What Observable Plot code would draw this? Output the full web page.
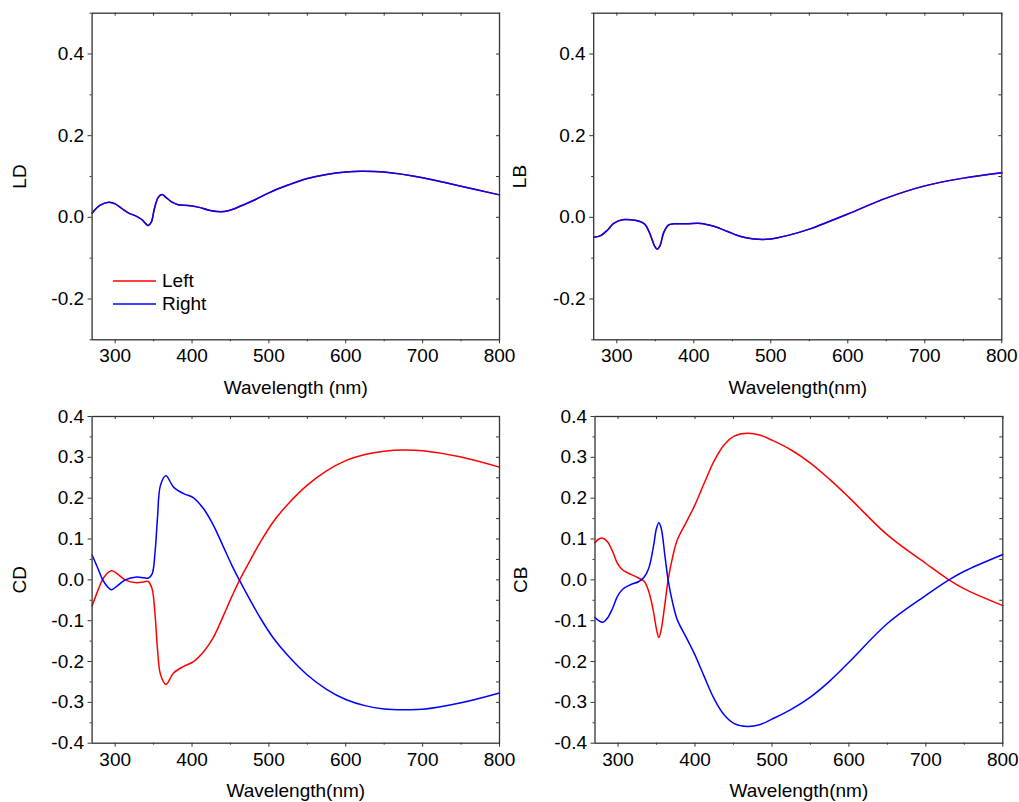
<!DOCTYPE html>
<html>
<head>
<meta charset="utf-8">
<script src="https://cdn.jsdelivr.net/npm/d3@7"></script>
<script src="https://cdn.jsdelivr.net/npm/@observablehq/plot@0.6"></script>
<style>
  body { margin: 0; background: #fff; font-family: Arial, "Liberation Sans", sans-serif; }
  #wrap { position: relative; width: 1019px; height: 802px; overflow: hidden; background: #fff; }
  .panel { position: absolute; }
  .legend { position: absolute; font-size: 19px; color: #000; line-height: 23px; }
  .legend div { display: flex; align-items: center; height: 23px; }
  .legend svg { margin-right: 6px; }
</style>
</head>
<body>
<div id="wrap"></div>
<script>
// ---- data ----
const seriesNames = ["Left", "Right"];
const seriesColors = ["#ff0000", "#0000ff"];

const xTicks = [300, 400, 500, 600, 700, 800];
const xMinor = [350, 450, 550, 650, 750];
const yTicksTop = [-0.2, 0.0, 0.2, 0.4];
const yMinorTop = [-0.3, -0.1, 0.1, 0.3, 0.5];
const yTicksBottom = [-0.4, -0.3, -0.2, -0.1, 0.0, 0.1, 0.2, 0.3, 0.4];
const yMinorBottom = [-0.35, -0.25, -0.15, -0.05, 0.05, 0.15, 0.25, 0.35];

// LD (Left and Right coincide)
const ldWl = [270, 280, 292, 300, 309, 317, 326, 335, 340, 343, 347, 351, 356, 361, 366, 374, 382, 395, 408, 421, 434, 447, 465, 482, 500, 525, 550, 575, 600, 620, 650, 700, 750, 800];
const ldLeft = [0.010, 0.029, 0.037, 0.033, 0.021, 0.011, 0.004, -0.006, -0.016, -0.020, -0.012, 0.021, 0.049, 0.056, 0.049, 0.037, 0.031, 0.029, 0.025, 0.018, 0.014, 0.016, 0.029, 0.043, 0.060, 0.079, 0.095, 0.105, 0.111, 0.113, 0.111, 0.097, 0.076, 0.055];
const ldRight = [0.010, 0.029, 0.037, 0.033, 0.021, 0.011, 0.004, -0.006, -0.016, -0.020, -0.012, 0.021, 0.049, 0.056, 0.049, 0.037, 0.031, 0.029, 0.025, 0.018, 0.014, 0.016, 0.029, 0.043, 0.060, 0.079, 0.095, 0.105, 0.111, 0.113, 0.111, 0.097, 0.076, 0.055];

// LB (Left and Right coincide)
const lbWl = [270, 279, 288, 296, 307, 318, 331, 337, 344, 349, 352.5, 356, 361, 367, 374, 391, 409, 426, 443, 461, 478, 500, 525, 550, 575, 600, 650, 700, 750, 800];
const lbLeft = [-0.049, -0.045, -0.031, -0.015, -0.006, -0.006, -0.011, -0.018, -0.045, -0.070, -0.078, -0.070, -0.037, -0.019, -0.016, -0.016, -0.015, -0.022, -0.034, -0.047, -0.053, -0.053, -0.043, -0.029, -0.011, 0.008, 0.047, 0.077, 0.096, 0.109];
const lbRight = [-0.049, -0.045, -0.031, -0.015, -0.006, -0.006, -0.011, -0.018, -0.045, -0.070, -0.078, -0.070, -0.037, -0.019, -0.016, -0.016, -0.015, -0.022, -0.034, -0.047, -0.053, -0.053, -0.043, -0.029, -0.011, 0.008, 0.047, 0.077, 0.096, 0.109];

// CD
const cdWl = [270, 278, 285, 295, 302, 313, 328, 337, 343, 348, 352, 355, 359, 366, 376, 389, 402, 415, 428, 441, 452, 462, 476, 489, 506, 525, 550, 575, 600, 625, 650, 675, 700, 750, 800];
const cdLeft = [-0.064, -0.024, 0.005, 0.022, 0.016, 0.0, -0.007, -0.005, -0.004, -0.022, -0.088, -0.168, -0.232, -0.256, -0.228, -0.212, -0.200, -0.176, -0.140, -0.087, -0.040, 0.000, 0.049, 0.093, 0.143, 0.186, 0.232, 0.267, 0.292, 0.307, 0.315, 0.318, 0.316, 0.301, 0.276];
const cdRight = [0.061, 0.026, -0.004, -0.024, -0.016, 0.0, 0.007, 0.005, 0.004, 0.014, 0.070, 0.150, 0.232, 0.255, 0.227, 0.211, 0.201, 0.174, 0.133, 0.080, 0.035, -0.002, -0.051, -0.094, -0.143, -0.186, -0.233, -0.268, -0.293, -0.308, -0.316, -0.318, -0.317, -0.301, -0.277];

// CB
const cbWl = [270, 275, 280, 286, 293, 299, 306, 316, 327, 334, 340, 346, 350, 353, 356, 361, 365, 371, 377, 388, 399, 412, 425, 438, 451, 468, 485, 500, 525, 550, 575, 600, 650, 700, 730, 750, 800];
const cbLeft = [0.091, 0.100, 0.102, 0.094, 0.069, 0.041, 0.024, 0.014, 0.004, -0.004, -0.029, -0.078, -0.122, -0.141, -0.122, -0.057, 0.0, 0.057, 0.098, 0.139, 0.180, 0.237, 0.292, 0.331, 0.352, 0.359, 0.354, 0.342, 0.318, 0.286, 0.246, 0.202, 0.110, 0.040, 0.0, -0.022, -0.063];
const cbRight = [-0.092, -0.100, -0.104, -0.094, -0.069, -0.041, -0.023, -0.012, -0.004, 0.007, 0.029, 0.082, 0.127, 0.140, 0.127, 0.057, 0.0, -0.057, -0.098, -0.139, -0.180, -0.237, -0.292, -0.331, -0.352, -0.359, -0.354, -0.341, -0.317, -0.287, -0.248, -0.202, -0.107, -0.038, 0.0, 0.021, 0.062];

// ---- drawing ----
function toRows(wl, left, right) {
  const rows = [];
  [left, right].forEach((vals, k) => {
    wl.forEach((w, i) => rows.push({ wl: w, v: vals[i], s: seriesNames[k] }));
  });
  return rows;
}

const fmt = d => d.toFixed(1);
const axisColor = "#333";

function makePanel(cfg) {
  const rows = toRows(cfg.wl, cfg.left, cfg.right);
  const innerW = cfg.width - cfg.ml - cfg.mr;
  const innerH = cfg.height - cfg.mt - cfg.mb;
  const chart = Plot.plot({
    width: cfg.width,
    height: cfg.height,
    marginLeft: cfg.ml,
    marginRight: cfg.mr,
    marginTop: cfg.mt,
    marginBottom: cfg.mb,
    style: { fontFamily: "Arial, 'Liberation Sans', sans-serif", fontSize: "19px", color: "#000", background: "transparent", overflow: "visible" },
    x: { domain: [270, 800] },
    y: { domain: cfg.yDomain },
    color: { domain: seriesNames, range: seriesColors },
    marks: [
      Plot.axisX(xTicks, { tickSize: 4, tickPadding: 5, stroke: axisColor, fill: "#000", label: cfg.xLabel, labelAnchor: "center", labelArrow: "none", labelOffset: 54, fontSize: 19 }),
      Plot.axisX(xMinor, { tickSize: 2, text: null, label: null, stroke: axisColor }),
      Plot.axisY(cfg.yTicks, { tickSize: 4, tickPadding: 4, tickFormat: fmt, stroke: axisColor, fill: "#000", label: cfg.yLabel, labelAnchor: "center", labelArrow: "none", labelOffset: cfg.ylOffset, fontSize: 19 }),
      Plot.axisY(cfg.yMinor, { tickSize: 2, text: null, label: null, stroke: axisColor }),
      Plot.tickX(xTicks.concat(xMinor), { x: d => d, insetBottom: innerH - 3, stroke: axisColor }),
      Plot.tickY(cfg.yTicks.concat(cfg.yMinor).filter(d => d > cfg.yDomain[0] && d < cfg.yDomain[1]), { y: d => d, insetLeft: innerW - 3, stroke: axisColor }),
      Plot.line(rows, { x: "wl", y: "v", z: "s", stroke: "s", strokeWidth: 1.5, curve: "catmull-rom" }),
      Plot.frame({ stroke: axisColor, strokeWidth: 1.3 })
    ]
  });
  chart.classList.add("panel");
  chart.style.left = cfg.left0 + "px";
  chart.style.top = cfg.top0 + "px";
  return chart;
}

const wrap = document.getElementById("wrap");

wrap.appendChild(makePanel({
  wl: ldWl, left: ldLeft, right: ldRight, yDomain: [-0.3, 0.5], yTicks: yTicksTop, yMinor: yMinorTop,
  yLabel: "LD", xLabel: "Wavelength (nm)", width: 510, height: 400, ml: 91.6, mr: 11, mt: 12.7, mb: 60.7,
  left0: 0, top0: 0, ylOffset: 80
}));
wrap.appendChild(makePanel({
  wl: lbWl, left: lbLeft, right: lbRight, yDomain: [-0.3, 0.5], yTicks: yTicksTop, yMinor: yMinorTop,
  yLabel: "LB", xLabel: "Wavelength(nm)", width: 509, height: 400, ml: 83.2, mr: 17.7, mt: 12.7, mb: 60.7,
  left0: 510, top0: 0, ylOffset: 81
}));
wrap.appendChild(makePanel({
  wl: cdWl, left: cdLeft, right: cdRight, yDomain: [-0.4, 0.4], yTicks: yTicksBottom, yMinor: yMinorBottom,
  yLabel: "CD", xLabel: "Wavelength(nm)", width: 510, height: 402, ml: 91.6, mr: 11, mt: 16, mb: 59.3,
  left0: 0, top0: 400, ylOffset: 80
}));
wrap.appendChild(makePanel({
  wl: cbWl, left: cbLeft, right: cbRight, yDomain: [-0.4, 0.4], yTicks: yTicksBottom, yMinor: yMinorBottom,
  yLabel: "CB", xLabel: "Wavelength(nm)", width: 509, height: 402, ml: 84.5, mr: 16.7, mt: 16, mb: 59.3,
  left0: 510, top0: 400, ylOffset: 82
}));

// legend (inside the LD panel)
const legend = document.createElement("div");
legend.className = "legend";
legend.style.left = "113px";
legend.style.top = "269px";
seriesNames.forEach((name, i) => {
  const row = document.createElement("div");
  row.innerHTML = `<svg width="43" height="4"><line x1="0" x2="43" y1="2" y2="2" stroke="${seriesColors[i]}" stroke-width="1.5"/></svg><span>${name}</span>`;
  legend.appendChild(row);
});
wrap.appendChild(legend);
</script>
</body>
</html>
